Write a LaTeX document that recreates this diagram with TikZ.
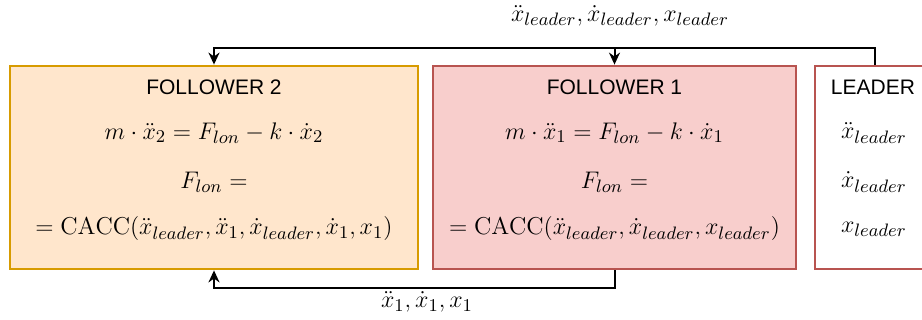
\documentclass[tikz,border=0pt]{standalone}
\usepackage{fontspec}
\setsansfont{Liberation Sans}
\usepackage{xcolor}
\usepackage{tikz}
\usetikzlibrary{arrows.meta,positioning,calc}

\definecolor{orangefill}{HTML}{FFE6CC}
\definecolor{orangeline}{HTML}{D79B00}
\definecolor{redfill}{HTML}{F8CECC}
\definecolor{redline}{HTML}{B85450}

\begin{document}
\begin{tikzpicture}[
    x=0.5pt, y=-0.5pt,
    every node/.style={font=\fontsize{12.2}{14}\selectfont},
    box/.style={draw, line width=1.4pt, minimum height=101.5pt, inner sep=0pt},
    title/.style={font=\fontsize{10.5}{12}\sffamily},
    link/.style={-{Stealth[length=6pt,width=5.5pt]}, line width=1pt}
]
\useasboundingbox (0,0) rectangle (922,320);
\clip (0,0) rectangle (922,320);

\node[box, fill=orangefill, draw=orangeline, minimum width=204pt] (f2) at (214,167.5) {};
\node[box, fill=redfill, draw=redline, minimum width=181.5pt] (f1) at (614.5,167.5) {};
\node[box, fill=white, draw=redline, minimum width=60pt] (lead) at (875,167.5) {};

\node[title] (f2t) at (214,87) {FOLLOWER 2};
\node (f2a) at (214,133) {$m\cdot\ddot{x}_2=F_{lon}-k\cdot\dot{x}_2$};
\node (f2b) at (214,182) {$F_{lon}=$};
\node (f2c) at (214,229) {$=\mathrm{CACC}(\ddot{x}_{leader},\ddot{x}_1,\dot{x}_{leader},\dot{x}_1,x_1)$};

\node[title] (f1t) at (614.5,87) {FOLLOWER 1};
\node (f1a) at (614.5,133) {$m\cdot\ddot{x}_1=F_{lon}-k\cdot\dot{x}_1$};
\node (f1b) at (614.5,182) {$F_{lon}=$};
\node (f1c) at (614.5,229) {$=\mathrm{CACC}(\ddot{x}_{leader},\dot{x}_{leader},x_{leader})$};

\node[title] (leadt) at (873,87) {LEADER};
\foreach \y/\v/\nm in {133/\ddot{x}_{leader}/acc, 182/\dot{x}_{leader}/vel, 229/x_{leader}/pos} {
    \node[anchor=west] (lead\nm) at (834,\y) {$\v$};
}

\coordinate (top) at (0,48);
\coordinate (bot) at (0,288);
\draw[link] (lead.north) -- (lead.north |- top) -| (f2.north);
\draw[link] (f1.north |- top) -- (f1.north);
\draw[link] (f1.south) -- (f1.south |- bot) -| (f2.south);

\node (toplbl) at (620,16) {$\ddot{x}_{leader},\dot{x}_{leader},x_{leader}$};
\node (botlbl) at (427,302) {$\ddot{x}_1,\dot{x}_1,x_1$};
\end{tikzpicture}
\end{document}
